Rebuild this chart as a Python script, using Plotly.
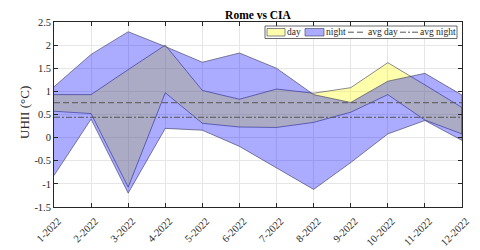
import plotly.graph_objects as go

months = [1, 2, 3, 4, 5, 6, 7, 8, 9, 10, 11, 12]
month_labels = ["1-2022", "2-2022", "3-2022", "4-2022", "5-2022", "6-2022",
                "7-2022", "8-2022", "9-2022", "10-2022", "11-2022", "12-2022"]

day_top = [0.93, 0.93, 1.47, 2.00, 1.02, 0.83, 1.05, 0.96, 1.08, 1.62, 1.14, 0.65]
day_bottom = [0.57, 0.52, -1.07, 0.97, 0.31, 0.23, 0.22, 0.33, 0.55, 0.93, 0.38, 0.08]
night_top = [1.10, 1.80, 2.29, 1.97, 1.63, 1.83, 1.50, 0.93, 0.76, 1.22, 1.39, 0.92]
night_bottom = [-0.82, 0.40, -1.20, 0.20, 0.16, -0.19, -0.65, -1.12, -0.54, 0.08, 0.37, -0.06]
avg_day = 0.755
avg_night = 0.44

y_ticks = [-1.5, -1, -0.5, 0, 0.5, 1, 1.5, 2, 2.5]
y_tick_labels = ["-1.5", "-1", "-0.5", "0", "0.5", "1", "1.5", "2", "2.5"]

legend_names = ["day", "night", "avg day", "avg night"]
y_title = "UHII (°C)"

FONT = "Liberation Serif, Times New Roman, serif"
DAY_FILL = "rgba(255,255,0,0.33)"
NIGHT_FILL = "rgba(0,0,255,0.33)"
EDGE = "rgba(55,55,85,0.85)"
AVG_COLOR = "#555555"
DASH_DAY = "6px,3px"
DASH_NIGHT = "6px,2px,2px,2px"

# The page body has an 8px margin, so the figure is drawn at (8, 8) in the
# 480x250 window; size and margins compensate for that offset.
OFF = 8
W, H = 480 - OFF, 250 - OFF
L, R, T, B = 54, 462, 22, 207   # plot area in window pixels

fig = go.Figure()
fig.add_trace(go.Scatter(
    x=months + months[::-1], y=day_top + day_bottom[::-1],
    fill="toself", fillcolor=DAY_FILL, line=dict(color=EDGE, width=0.7),
    mode="lines", name=legend_names[0]))
fig.add_trace(go.Scatter(
    x=months + months[::-1], y=night_top + night_bottom[::-1],
    fill="toself", fillcolor=NIGHT_FILL, line=dict(color=EDGE, width=0.7),
    mode="lines", name=legend_names[1]))
fig.add_trace(go.Scatter(
    x=[months[0], months[-1]], y=[avg_day, avg_day], mode="lines",
    line=dict(color=AVG_COLOR, width=1, dash=DASH_DAY), name=legend_names[2]))
fig.add_trace(go.Scatter(
    x=[months[0], months[-1]], y=[avg_night, avg_night], mode="lines",
    line=dict(color=AVG_COLOR, width=1, dash=DASH_NIGHT), name=legend_names[3]))

def px(x):
    return (x - L) / (R - L)
def py(y):
    return (B - y) / (B - T)

# compact MATLAB-like legend box (layout only, in paper coordinates)
shapes = [dict(type="rect", xref="paper", yref="paper",
               x0=px(265), x1=px(457), y0=py(38.5), y1=py(26),
               fillcolor="white", line=dict(color="#444444", width=0.8), layer="above")]
items = [
    ("patch", DAY_FILL, 267, 285, None),
    ("patch", NIGHT_FILL, 305, 324, None),
    ("line", AVG_COLOR, 348, 366, DASH_DAY),
    ("line", AVG_COLOR, 400, 418, DASH_NIGHT),
]
annotations = []
yc = 32.2
for (kind, col, x0, x1, dash), name in zip(items, legend_names):
    if kind == "patch":
        shapes.append(dict(type="rect", xref="paper", yref="paper",
                           x0=px(x0), x1=px(x1), y0=py(36), y1=py(28.5),
                           fillcolor=col, line=dict(color=EDGE, width=0.7), layer="above"))
    else:
        shapes.append(dict(type="line", xref="paper", yref="paper",
                           x0=px(x0), x1=px(x1), y0=py(yc), y1=py(yc),
                           line=dict(color=col, width=1, dash=dash), layer="above"))
    annotations.append(dict(xref="paper", yref="paper", x=px(x1 + 0.5), y=py(yc),
                            xanchor="left", yanchor="middle", showarrow=False,
                            borderpad=0,
                            text=name, font=dict(family=FONT, size=9.5, color="#262626")))

# y-axis title placed like MATLAB's ylabel
annotations.append(dict(xref="paper", yref="paper", x=px(24), y=py(113),
                        xanchor="center", yanchor="middle", showarrow=False,
                        textangle=-90, text=y_title,
                        font=dict(family=FONT, size=13, color="#262626")))

fig.update_layout(
    width=W, height=H,
    margin=dict(l=L - OFF, r=480 - R, t=T - OFF, b=250 - B, autoexpand=False),
    paper_bgcolor="white", plot_bgcolor="white",
    font=dict(family=FONT, size=11, color="#262626"),
    title=dict(text="<b>Rome vs CIA</b>", x=0.5, xref="paper", y=1 - (15 - OFF) / H,
               yref="container", yanchor="middle", xanchor="center",
               font=dict(family=FONT, size=11.5, color="black")),
    showlegend=False,
    shapes=shapes,
    annotations=annotations,
)
fig.update_xaxes(
    range=[1, 12], tickvals=months, ticktext=month_labels, tickangle=-45,
    showgrid=True, gridcolor="#e6e6e6", gridwidth=1,
    showline=True, linecolor="#262626", linewidth=0.8, mirror="allticks",
    ticks="inside", ticklen=4, tickcolor="#262626", zeroline=False, automargin=False,
    ticklabelstandoff=3, ticklabelshift=4,
    tickfont=dict(family=FONT, size=10.5, color="#262626"))
fig.update_yaxes(
    range=[-1.5, 2.5], tickvals=y_ticks, ticktext=y_tick_labels,
    showgrid=True, gridcolor="#e6e6e6", gridwidth=1,
    showline=True, linecolor="#262626", linewidth=0.8, mirror="allticks",
    ticks="inside", ticklen=4, tickcolor="#262626", zeroline=False, automargin=False,
    tickfont=dict(family=FONT, size=10.5, color="#262626"))

fig.write_html("out.html")
